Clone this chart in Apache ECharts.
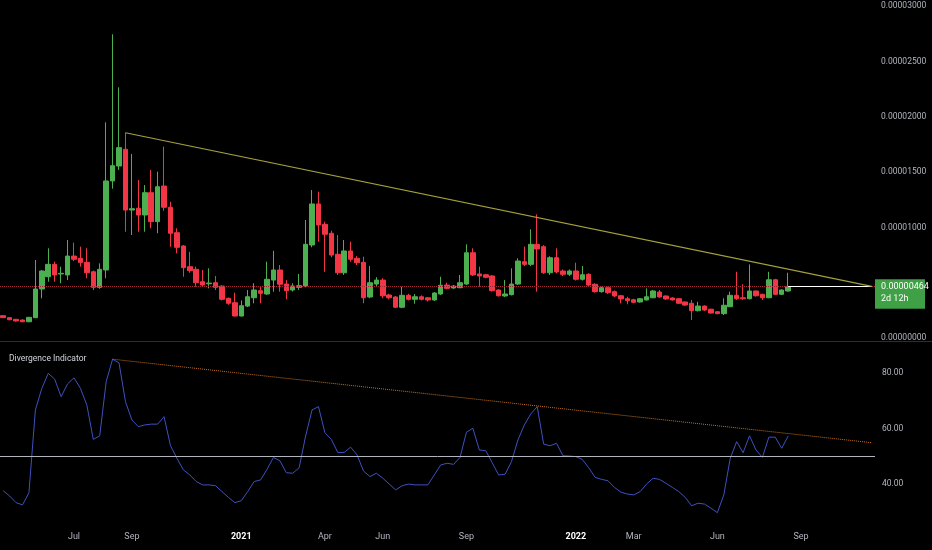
<!DOCTYPE html>
<html>
<head>
<meta charset="utf-8">
<script src="https://cdn.jsdelivr.net/npm/echarts@6/dist/echarts.min.js"></script>
<style>
html,body{margin:0;padding:0;background:#000;}
#chart{width:932px;height:550px;}
</style>
</head>
<body>
<div id="chart"></div>
<script>
// ---- data (price in millionths: 4.64 = 0.00000464) ----
const startWeek = '2020-04-20';
const weekCount = 136; // weekly slots shown on the axis (incl. empty space to the right)

const open = [2.02,1.84,1.69,1.63,1.47,1.84,4.43,5.54,6.66,5.79,
  5.70,7.41,7.21,6.84,5.99,4.58,6.15,14.20,15.55,17.06,
  11.57,11.73,11.12,13.14,10.52,13.74,11.82,9.52,8.32,6.45,
  6.21,5.09,4.90,5.00,4.70,3.59,3.19,1.99,2.89,3.64,
  4.28,3.98,5.24,6.15,4.88,4.34,4.58,4.70,8.41,12.12,
  10.28,9.47,7.57,5.90,7.87,7.21,6.84,3.71,4.88,5.24,
  3.89,3.71,2.78,3.86,3.50,3.73,3.64,3.44,3.98,4.79,
  4.52,4.55,4.88,7.71,5.79,5.72,5.61,4.34,3.80,3.92,
  4.88,6.90,6.66,8.47,8.26,5.90,7.26,6.06,5.76,6.06,
  5.31,5.76,4.86,4.19,4.55,4.19,3.82,3.55,3.46,3.26,
  3.44,3.64,4.16,3.80,3.62,3.55,3.26,3.14,2.47,2.89,
  2.60,2.38,2.20,2.83,3.86,3.64,3.55,4.25,3.95,3.64,
  5.27,3.95,4.25];
const close = [1.84,1.65,1.54,1.47,1.87,4.43,6.06,6.66,5.70,5.85,
  7.41,7.12,6.84,5.90,4.58,6.21,14.20,15.58,17.21,11.57,
  11.69,11.12,13.14,10.52,13.68,11.82,9.47,8.20,6.36,6.09,
  5.00,4.79,4.97,4.58,3.50,3.14,1.99,2.92,3.73,4.34,
  4.04,5.31,6.15,4.86,4.28,4.70,4.73,8.47,12.12,10.22,
  9.38,7.50,5.90,7.87,7.12,6.81,3.64,5.00,5.24,3.82,
  3.64,2.78,3.86,3.50,3.73,3.50,3.44,4.07,4.77,4.49,
  4.70,5.00,7.71,5.70,5.61,5.49,4.28,3.82,3.98,4.88,
  6.96,6.66,8.47,8.05,5.90,7.26,5.97,5.76,6.06,5.31,
  5.72,4.79,4.19,4.55,4.10,3.80,3.53,3.37,3.23,3.55,
  3.73,4.25,3.71,3.53,3.44,3.14,2.98,2.47,2.89,2.53,
  2.26,2.20,2.96,3.86,3.55,3.55,4.25,3.82,3.64,5.27,
  3.95,4.34,4.64];
const low = [1.80,1.62,1.50,1.44,1.44,1.80,3.59,5.09,5.09,4.95,
  5.24,6.95,6.45,5.40,4.34,4.45,5.40,13.50,15.20,9.61,
  9.31,9.61,9.61,9.92,9.47,11.50,8.26,7.66,5.54,5.90,
  4.64,4.65,4.49,4.34,3.40,3.00,1.95,1.95,2.80,3.14,
  3.14,3.90,4.19,4.19,3.50,4.20,4.34,4.58,8.20,8.71,
  5.99,7.30,5.70,5.70,6.90,6.60,3.14,3.60,4.70,3.60,
  3.50,2.70,2.70,3.40,3.10,3.40,3.30,3.35,3.90,4.40,
  4.45,4.50,4.80,5.60,4.64,5.40,4.20,3.75,3.70,3.85,
  4.80,6.50,6.50,4.19,5.80,5.70,5.85,5.60,5.60,5.20,
  5.20,4.70,4.10,4.10,4.00,3.70,3.14,3.05,3.15,3.20,
  3.40,3.60,3.65,3.45,3.40,3.10,2.90,1.63,2.40,2.45,
  2.20,2.15,2.08,2.80,3.45,3.45,3.50,3.75,3.44,3.60,
  3.90,3.90,4.20];
const high = [2.06,1.88,1.72,1.66,1.90,7.05,6.15,8.11,6.90,6.45,
  8.86,8.62,8.26,8.11,6.10,6.75,19.50,27.46,22.67,18.56,
  16.64,14.29,13.83,15.19,15.04,17.30,12.32,9.92,8.41,7.80,
  6.45,6.15,6.30,5.61,4.75,3.65,4.10,3.40,4.34,4.95,
  4.60,6.90,7.89,6.60,5.24,4.95,5.79,10.67,13.38,13.23,
  10.52,9.70,9.31,8.86,8.71,7.40,7.35,6.51,5.50,5.40,
  4.00,3.80,4.64,4.00,3.98,3.85,3.70,4.15,5.54,5.00,
  4.80,5.70,8.47,8.11,6.45,5.80,5.70,4.40,5.24,6.30,
  7.21,8.26,9.83,11.18,8.40,7.40,8.11,6.20,6.20,6.81,
  6.51,5.85,4.95,4.65,4.65,4.30,3.90,3.73,3.55,3.60,
  4.49,4.35,4.34,3.85,3.68,3.60,3.30,3.44,3.28,2.95,
  2.65,2.42,3.59,4.19,5.99,4.86,6.66,4.30,4.00,5.99,
  5.35,4.40,5.90];

const indicator = [37.7,35.8,33.4,32.6,37.0,66.8,74.6,80.0,77.9,71.6,
  76.2,78.4,74.6,68.6,56.2,57.5,77.0,85.1,83.8,69.8,
  63.2,60.8,61.4,61.7,61.7,64.4,53.9,49.4,45.2,43.4,
  41.0,39.8,39.8,39.5,37.4,35.3,33.4,34.1,37.4,41.0,
  41.6,45.4,49.7,48.5,44.2,44.0,46.0,57.4,66.8,68.0,
  58.6,56.2,51.5,51.5,53.4,50.6,44.8,42.8,44.0,42.2,
  40.1,38.0,39.5,40.1,39.8,39.8,39.8,43.4,47.0,47.6,
  47.2,49.7,58.8,60.2,52.4,52.1,47.8,43.4,43.6,48.2,
  56.0,61.4,65.4,68.0,54.5,53.9,54.8,50.3,50.2,50.0,
  49.0,46.0,42.5,41.8,41.3,38.9,37.2,36.5,36.2,37.4,
  40.1,42.2,41.8,40.4,38.9,37.4,35.3,32.3,33.2,32.9,
  31.4,29.8,36.2,49.4,55.4,51.4,57.5,52.4,49.7,57.0,
  57.0,53.0,57.4];

const lastPrice = 4.64;
const countdown = '2d 12h';
const indicatorLevel = 50;
const priceTrend = [[19, 18.56], [135, 4.67]];     // [week index, price]
const indicatorTrend = [[17, 85.1], [135, 55.0]];  // [week index, value]

const priceTicks = [0, 10, 15, 20, 25, 30];
const indicatorTicks = [40, 60, 80];
const tickDates = ['2020-07-06','2020-09-07','2021-01-04','2021-04-05','2021-06-07','2021-09-06','2022-01-03','2022-03-07','2022-06-06','2022-09-05'];
const tickLabels = ['Jul','Sep','2021','Apr','Jun','Sep','2022','Mar','Jun','Sep'];

// ---- build ----
const categories = [];
{
  const d0 = new Date(startWeek + 'T00:00:00Z');
  for (let i = 0; i < weekCount; i++) {
    const d = new Date(d0.getTime() + i * 7 * 86400000);
    categories.push(d.toISOString().slice(0, 10));
  }
}
const candles = open.map((o, i) => [o, close[i], low[i], high[i]]);
const lastIdx = open.length - 1;
const fmtPrice = v => (v / 1e6).toFixed(8);

const FONT = 'Roboto, "Noto Sans", sans-serif';
const GREEN = '#4caf50';
const RED = '#f23645';
const LABEL_GREEN = '#3fa046';
const AXIS_TEXT = '#b2b5be';

const chart = echarts.init(document.getElementById('chart'), null, {renderer: 'canvas'});

const gridL = -1.5, gridW = 876.5;

chart.setOption({
  backgroundColor: '#000000',
  animation: false,
  title: {
    text: 'Divergence Indicator',
    left: 4, top: 349,
    textStyle: {color: '#d1d4dc', fontSize: 8.5, fontWeight: 'normal', fontFamily: FONT}
  },
  graphic: [{
    type: 'rect', left: 0, top: 341, silent: true,
    shape: {width: 932, height: 1},
    style: {fill: '#2e2e2e'}
  }],
  grid: [
    {left: gridL, width: gridW, top: 0, height: 341},
    {left: gridL, width: gridW, top: 342, height: 180}
  ],
  xAxis: [
    {type: 'category', gridIndex: 0, data: categories, boundaryGap: true,
     axisLine: {show: false}, axisTick: {show: false}, axisLabel: {show: false}, splitLine: {show: false}},
    {type: 'category', gridIndex: 1, data: categories, boundaryGap: true,
     axisLine: {show: false}, axisTick: {show: false}, splitLine: {show: false},
     axisLabel: {
       show: true, margin: 10, hideOverlap: false,
       color: AXIS_TEXT, fontSize: 9, fontFamily: FONT,
       interval: (idx, val) => tickDates.indexOf(val) >= 0,
       formatter: val => {
         const k = tickDates.indexOf(val);
         if (k < 0) return '';
         const t = tickLabels[k];
         return /^\d{4}$/.test(t) ? '{y|' + t + '}' : t;
       },
       rich: {y: {color: '#ffffff', fontWeight: 'bold', fontSize: 9, fontFamily: FONT}}
     }}
  ],
  yAxis: [
    {type: 'value', gridIndex: 0, position: 'right', min: -0.27, max: 30.56, scale: false,
     axisLine: {show: false}, axisTick: {show: false}, splitLine: {show: false},
     axisLabel: {show: true, margin: 6, color: AXIS_TEXT, fontSize: 8.5, fontFamily: FONT,
                 customValues: priceTicks, formatter: v => fmtPrice(v)}},
    {type: 'value', gridIndex: 1, position: 'right', min: 26.43, max: 91.3,
     axisLine: {show: false}, axisTick: {show: false}, splitLine: {show: false},
     axisLabel: {show: true, margin: 7, color: AXIS_TEXT, fontSize: 8.5, fontFamily: FONT,
                 customValues: indicatorTicks, formatter: v => v.toFixed(2)}}
  ],
  series: [
    {
      type: 'candlestick', name: 'price', xAxisIndex: 0, yAxisIndex: 0,
      data: candles, barWidth: '78%',
      itemStyle: {color: GREEN, color0: RED, borderColor: GREEN, borderColor0: RED, borderWidth: 1},
      markLine: {
        silent: true, symbol: ['none', 'none'], animation: false,
        data: [
          {yAxis: lastPrice,
           lineStyle: {color: 'rgba(0,0,0,0)', width: 0},
           label: {show: true, position: 'end', distance: 0, formatter: countdown,
                   verticalAlign: 'top', align: 'left',
                   color: '#ffffff', fontSize: 9, fontFamily: FONT,
                   backgroundColor: LABEL_GREEN, padding: [8, 4, 5, 6], width: 40}},
          {yAxis: lastPrice,
           lineStyle: {color: '#a02a35', width: 1, type: 'dotted'},
           label: {show: true, position: 'end', distance: 0, formatter: p => fmtPrice(p.value),
                   verticalAlign: 'middle', align: 'left',
                   color: '#ffffff', fontSize: 9, fontFamily: FONT,
                   backgroundColor: LABEL_GREEN, padding: [3, 4, 3, 6], width: 40}},
          [
            {coord: [categories[lastIdx], lastPrice], lineStyle: {color: '#ffffff', width: 1, type: 'solid'}, label: {show: false}},
            {coord: [categories[weekCount - 1], lastPrice]}
          ],
          [
            {coord: [categories[priceTrend[0][0]], priceTrend[0][1]], lineStyle: {color: '#a4a03c', width: 1.2, type: 'solid'}, label: {show: false}},
            {coord: [categories[priceTrend[1][0]], priceTrend[1][1]]}
          ]
        ]
      }
    },
    {
      type: 'line', name: 'Divergence Indicator', xAxisIndex: 1, yAxisIndex: 1,
      data: indicator, showSymbol: false, symbol: 'none',
      lineStyle: {color: '#3f51c0', width: 1},
      markLine: {
        silent: true, symbol: ['none', 'none'], animation: false,
        label: {show: false},
        data: [
          {yAxis: indicatorLevel, lineStyle: {color: '#b2b5be', width: 1, type: 'solid'}},
          [
            {coord: [categories[indicatorTrend[0][0]], indicatorTrend[0][1]], lineStyle: {color: '#c8701e', width: 1, type: 'dotted'}},
            {coord: [categories[indicatorTrend[1][0]], indicatorTrend[1][1]]}
          ]
        ]
      }
    }
  ]
});
</script>
</body>
</html>
